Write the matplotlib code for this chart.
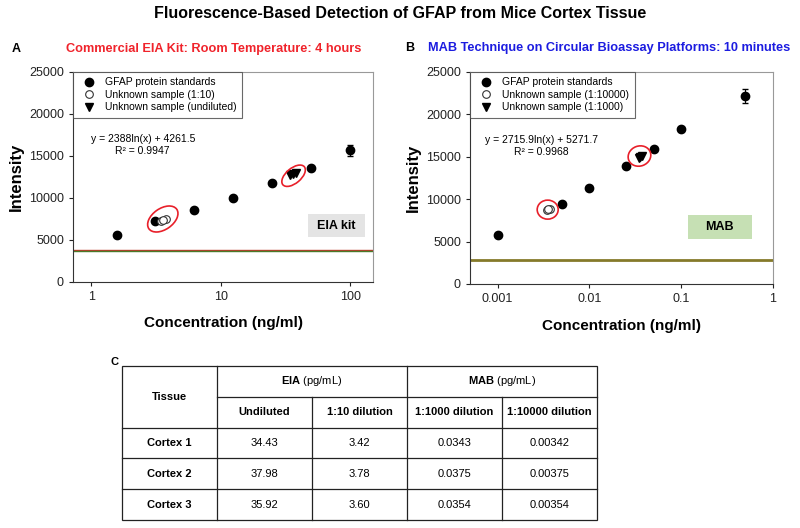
import matplotlib
matplotlib.use('Agg')
import matplotlib.pyplot as plt
from matplotlib.patches import Ellipse, Rectangle
from matplotlib.lines import Line2D
from matplotlib.transforms import ScaledTranslation

plt.rcParams['font.family'] = ['Liberation Sans', 'DejaVu Sans']
plt.rcParams['mathtext.fontset'] = 'custom'
plt.rcParams['mathtext.rm'] = 'Liberation Sans'
plt.rcParams['mathtext.bf'] = 'Liberation Sans:bold'

# panel A: commercial EIA kit
eia_std_conc = [1.5625, 3.125, 6.25, 12.5, 25, 50, 100]
eia_std_int = [5550, 7250, 8600, 9950, 11750, 13600, 15700]
eia_std_err = [0, 0, 0, 0, 0, 0, 650]
eia_dil_conc = [3.42, 3.78, 3.60]
eia_dil_int = [7300, 7450, 7380]
eia_und_conc = [34.43, 37.98, 35.92]
eia_und_int = [12700, 12950, 12820]
eia_baseline = 3800

# panel B: MAB on circular bioassay platform
mab_std_conc = [0.001, 0.005, 0.01, 0.025, 0.05, 0.1, 0.5]
mab_std_int = [5750, 9400, 11300, 13900, 15950, 18300, 22200]
mab_std_err = [0, 0, 0, 0, 0, 0, 800]
mab_d4_conc = [0.00342, 0.00375, 0.00354]
mab_d4_int = [8700, 8900, 8800]
mab_d3_conc = [0.0343, 0.0375, 0.0354]
mab_d3_int = [14900, 15150, 15020]
mab_baseline = 2800

# panel C: table
tissues = ['Cortex 1', 'Cortex 2', 'Cortex 3']
sub_headers = ['Undiluted', '1:10 dilution', '1:1000 dilution', '1:10000 dilution']
table_vals = [['34.43', '3.42', '0.0343', '0.00342'],
              ['37.98', '3.78', '0.0375', '0.00375'],
              ['35.92', '3.60', '0.0354', '0.00354']]

W, H = 800, 528
fig = plt.figure(figsize=(8, 5.28), dpi=100)


def box(x0, y0, x1, y1):
    # pixel box (top-left origin) -> figure fraction rect
    return [x0 / W, 1 - y1 / H, (x1 - x0) / W, (y1 - y0) / H]


def ring(ax, cx, cy, w, h, ang):
    tr = fig.dpi_scale_trans + ScaledTranslation(cx, cy, ax.transData)
    ax.add_patch(Ellipse((0, 0), w / 100, h / 100, angle=ang, transform=tr,
                         fill=False, ec='#e8202a', lw=1.2, zorder=5))


def style(ax, xlim, ticks, labels, pad):
    ax.set_xscale('log')
    ax.set_xlim(*xlim)
    ax.set_xticks(ticks)
    ax.set_xticklabels(labels)
    ax.set_ylim(0, 25000)
    ax.set_yticks([0, 5000, 10000, 15000, 20000, 25000])
    ax.minorticks_off()
    ax.tick_params(direction='out', length=3, labelsize=9, colors='#222222')
    for s in ['top', 'right']:
        ax.spines[s].set_color('#999999')
    for s in ['left', 'bottom']:
        ax.spines[s].set_color('#333333')
    ax.set_ylabel('Intensity', fontsize=12, fontweight='bold', labelpad=4)
    ax.set_xlabel('Concentration (ng/ml)', fontsize=11, fontweight='bold', labelpad=pad)


def legend(ax, labels):
    handles = [Line2D([], [], ls='none', marker='o', color='black', ms=6),
               Line2D([], [], ls='none', marker='o', mfc='white', mec='#333333', ms=5.5, mew=0.8),
               Line2D([], [], ls='none', marker='v', color='black', ms=6)]
    leg = ax.legend(handles, labels, loc='upper left', fontsize=7.5, frameon=True, fancybox=False,
                    borderaxespad=0, handletextpad=0.6, labelspacing=0.25, borderpad=0.5)
    leg.get_frame().set_edgecolor('#444444')
    leg.get_frame().set_linewidth(0.8)


def tag(ax, x0, w, text, fc):
    ax.add_patch(Rectangle((x0, 0.214), w, 0.11, transform=ax.transAxes, fc=fc, ec='none', zorder=1))
    ax.text(x0 + w / 2, 0.269, text, transform=ax.transAxes, fontsize=9, fontweight='bold',
            ha='center', va='center', zorder=2)


# ---- panel A
axA = fig.add_axes(box(73, 72, 373, 282))
axA.errorbar(eia_std_conc, eia_std_int, yerr=eia_std_err, fmt='o', color='black',
             ms=6, capsize=2.5, elinewidth=0.8, zorder=3)
axA.plot(eia_dil_conc, eia_dil_int, 'o', mfc='white', mec='#333333', ms=5.5, mew=0.8, zorder=4)
axA.plot(eia_und_conc, eia_und_int, 'v', color='black', ms=6, zorder=4)
axA.axhline(eia_baseline + 60, color='#c0392b', lw=1.0)
axA.axhline(eia_baseline - 60, color='#4a7a2a', lw=1.0)
style(axA, (0.72, 150), [1, 10, 100], ['1', '10', '100'], 9)
ring(axA, 3.56, 7500, 34, 21, 35)
ring(axA, 36.5, 12650, 28, 15, 40)
axA.text(0.06, 0.665, 'y = 2388ln(x) + 4261.5', transform=axA.transAxes, fontsize=7.5)
axA.text(0.14, 0.61, 'R² = 0.9947', transform=axA.transAxes, fontsize=7.5)
tag(axA, 0.783, 0.19, 'EIA kit', '#e4e4e4')
legend(axA, ['GFAP protein standards', 'Unknown sample (1:10)', 'Unknown sample (undiluted)'])

# ---- panel B
axB = fig.add_axes(box(470, 72, 773, 284))
axB.errorbar(mab_std_conc, mab_std_int, yerr=mab_std_err, fmt='o', color='black',
             ms=6, capsize=2.5, elinewidth=0.8, zorder=3)
axB.plot(mab_d4_conc, mab_d4_int, 'o', mfc='white', mec='#333333', ms=5.5, mew=0.8, zorder=4)
axB.plot(mab_d3_conc, mab_d3_int, 'v', color='black', ms=6, zorder=4)
axB.axhline(mab_baseline, color='#857a2a', lw=2.0)
style(axB, (0.0005, 1), [0.001, 0.01, 0.1, 1], ['0.001', '0.01', '0.1', '1'], 10)
ring(axB, 0.00351, 8770, 21, 19, 0)
ring(axB, 0.0351, 15090, 23, 20, 20)
axB.text(0.05, 0.665, 'y = 2715.9ln(x) + 5271.7', transform=axB.transAxes, fontsize=7.5)
axB.text(0.145, 0.61, 'R² = 0.9968', transform=axB.transAxes, fontsize=7.5)
tag(axB, 0.719, 0.211, 'MAB', '#c6e0b4')
legend(axB, ['GFAP protein standards', 'Unknown sample (1:10000)', 'Unknown sample (1:1000)'])

# ---- titles
fig.text(0.5, 1 - 13 / H, 'Fluorescence-Based Detection of GFAP from Mice Cortex Tissue',
         ha='center', va='center', fontsize=11.5, fontweight='bold')
fig.text(12 / W, 1 - 49 / H, 'A', fontsize=9, fontweight='bold', va='center')
fig.text(214 / W, 1 - 49 / H, 'Commercial EIA Kit: Room Temperature: 4 hours',
         ha='center', va='center', fontsize=9.2, fontweight='bold', color='#f0232b')
fig.text(405 / W, 1 - 48 / H, 'B', fontsize=9, fontweight='bold', va='center')
fig.text(609 / W, 1 - 48 / H, 'MAB Technique on Circular Bioassay Platforms: 10 minutes',
         ha='center', va='center', fontsize=9.2, fontweight='bold', color='#1c1ce0')
fig.text(110 / W, 1 - 362 / H, 'C', fontsize=8, fontweight='bold', va='center')

# ---- panel C: table drawn on its own axes (x: columns, y: rows from top)
axC = fig.add_axes(box(122, 366, 597, 520))
axC.set_xlim(0, 5)
axC.set_ylim(5, 0)
axC.axis('off')
lw = 0.9
kw = dict(color='#222222', lw=lw, clip_on=False)
axC.add_patch(Rectangle((0, 0), 5, 5, fill=False, ec='#222222', lw=lw, clip_on=False))
axC.plot([1, 1], [0, 5], **kw)
axC.plot([3, 3], [0, 5], **kw)
for c in [2, 4]:
    axC.plot([c, c], [1, 5], **kw)
axC.plot([1, 5], [1, 1], **kw)
for r in [2, 3, 4]:
    axC.plot([0, 5], [r, r], **kw)

fs = 8
axC.text(0.5, 1.0, 'Tissue', ha='center', va='center', fontsize=fs, fontweight='bold')
axC.text(2, 0.5, r'$\mathbf{EIA}$ (pg/mL)', ha='center', va='center', fontsize=fs)
axC.text(4, 0.5, r'$\mathbf{MAB}$ (pg/mL)', ha='center', va='center', fontsize=fs)
for j, h in enumerate(sub_headers):
    axC.text(1.5 + j, 1.5, h, ha='center', va='center', fontsize=fs, fontweight='bold')
for i, t in enumerate(tissues):
    axC.text(0.5, 2.5 + i, t, ha='center', va='center', fontsize=fs, fontweight='bold')
    for j, v in enumerate(table_vals[i]):
        axC.text(1.5 + j, 2.5 + i, v, ha='center', va='center', fontsize=fs)

fig.savefig('out.png', dpi=100)
